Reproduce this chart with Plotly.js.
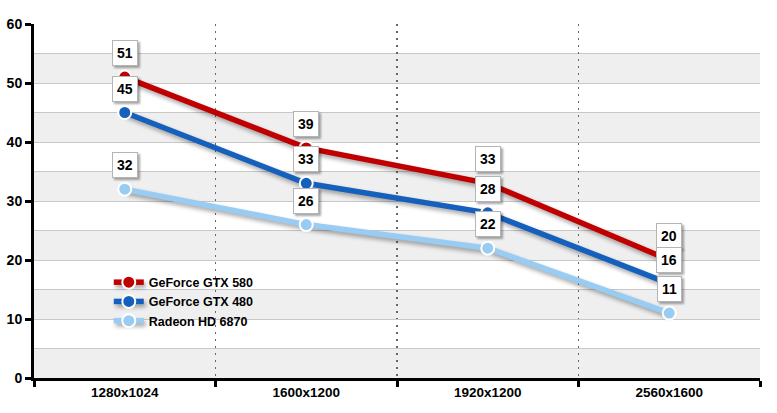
<!DOCTYPE html>
<html><head><meta charset="utf-8">
<script src="https://cdn.plot.ly/plotly-3.0.1.min.js"></script>
<style>
body{margin:0;background:#fff}#c{width:777px;height:413px}
#c .scatterlayer .trace path.js-line{filter:drop-shadow(2px 3px 2px rgba(0,0,0,0.35))}
#c .annotation rect.bg{filter:drop-shadow(2px 2px 1px rgba(0,0,0,0.35))}
#c .legend .traces path.js-line{filter:drop-shadow(2px 3px 2px rgba(0,0,0,0.35))}
</style>
</head><body><div id="c"></div>
<script>
const categories = ["1280x1024", "1600x1200", "1920x1200", "2560x1600"];
const seriesNames = ["GeForce GTX 580", "GeForce GTX 480", "Radeon HD 6870"];
const gtx580 = [51, 39, 33, 20];
const gtx480 = [45, 33, 28, 16];
const hd6870 = [32, 26, 22, 11];
const colors = ["#c00000", "#1560bd", "#99ccf3"];
const yTicks = [0, 10, 20, 30, 40, 50, 60];

const allSeries = [gtx580, gtx480, hd6870];
const traces = allSeries.map((vals, i) => ({
  type: "scatter", mode: "lines+markers", name: seriesNames[i],
  x: categories, y: vals,
  line: {color: colors[i], width: 5.5},
  marker: {color: colors[i], size: 13, line: {color: "#fff", width: 2}}
}));

const annotations = [];
allSeries.forEach((vals) => {
  vals.forEach((v, j) => {
    annotations.push({
      x: categories[j], y: v, xref: "x", yref: "y", text: "<b>" + v + "</b>",
      showarrow: false, yshift: 24, bgcolor: "#ffffff", bordercolor: "#b4b4b4",
      borderwidth: 1, borderpad: 4,
      font: {family: "Arial, Liberation Sans", size: 14, color: "#000"}
    });
  });
});

const shapes = [];
for (let b = 0; b < 60; b += 10) {
  shapes.push({type: "rect", xref: "paper", yref: "y", x0: 0, x1: 1, y0: b, y1: b + 5,
    fillcolor: "#efefef", line: {width: 0}, layer: "below"});
}

const layout = {
  width: 777, height: 413,
  margin: {l: 34, r: 17, t: 24, b: 35},
  paper_bgcolor: "#fff", plot_bgcolor: "#fff",
  showlegend: true,
  legend: {x: 0.103, y: 0.312, xanchor: "left", yanchor: "top", bgcolor: "rgba(0,0,0,0)",
    font: {family: "Arial, Liberation Sans", size: 12.5, color: "#000", weight: "bold"},
    tracegroupgap: 0, itemwidth: 30},
  xaxis: {
    type: "category", range: [-0.5, 3.5], tickson: "boundaries",
    showgrid: true, gridcolor: "#666", griddash: "2px,5px", gridwidth: 1.5,
    showline: true, linecolor: "#000", linewidth: 3,
    ticks: "outside", ticklen: 6, tickwidth: 3, tickcolor: "#000",
    tickfont: {family: "Arial, Liberation Sans", size: 13.5, color: "#000", weight: "bold"},
    zeroline: false, fixedrange: true
  },
  yaxis: {
    range: [0, 60], tickvals: yTicks, ticktext: yTicks.map(String),
    showgrid: true, gridcolor: "#c8c8c8", gridwidth: 1,
    minor: {dtick: 5, tick0: 0, showgrid: true, gridcolor: "#c8c8c8", gridwidth: 1},
    showline: true, linecolor: "#000", linewidth: 3,
    ticks: "outside", ticklen: 6, tickwidth: 3, tickcolor: "#000",
    tickfont: {family: "Arial, Liberation Sans", size: 14, color: "#000", weight: "bold"},
    zeroline: false, fixedrange: true
  },
  shapes: shapes,
  annotations: annotations
};

Plotly.newPlot("c", traces, layout, {displayModeBar: false, staticPlot: true});
</script></body></html>
